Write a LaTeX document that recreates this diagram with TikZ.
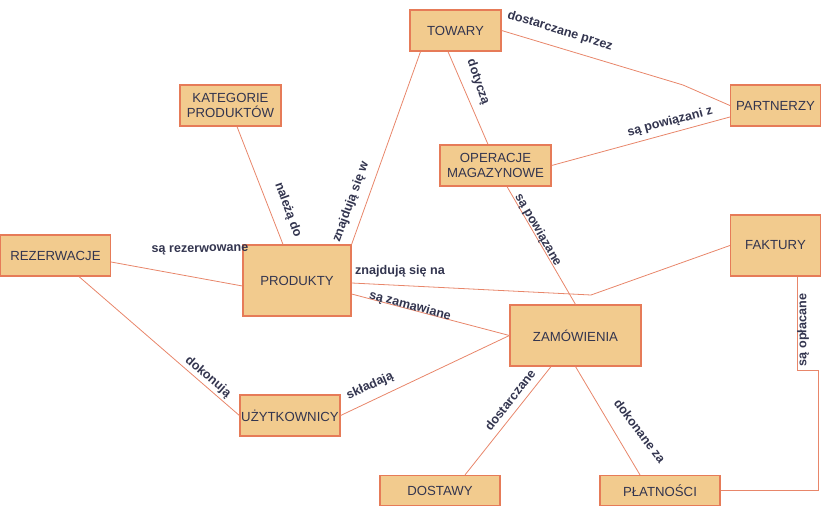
\documentclass[tikz,border=0pt]{standalone}
\usepackage{fontspec}
\setmainfont{Liberation Sans}
\definecolor{boxfill}{HTML}{F2CB8E}
\definecolor{boxdraw}{HTML}{E67B58}
\definecolor{linecol}{HTML}{E8866A}
\definecolor{txt}{HTML}{33354F}
\begin{document}
\begin{tikzpicture}[x=1pt,y=-1pt,
  ent/.style={draw=boxdraw,fill=boxfill,line width=1.2pt,inner sep=0pt,align=center,
    text=txt,font=\fontsize{13.2}{15}\selectfont},
  rel/.style={draw=linecol,line width=0.8pt},
  lab/.style={text=txt,inner sep=0pt,font=\fontsize{12.6}{14}\selectfont\bfseries}]
\useasboundingbox (0,0) rectangle (821,508);
% connectors drawn first so boxes cover their ends
\coordinate (bendA) at (683,85);
\coordinate (bendB) at (591,295);
% nodes
\node[ent,minimum width=91pt,minimum height=41pt] (towary) at (455.5,30.5) {TOWARY};
\node[ent,minimum width=101pt,minimum height=41pt] (kat) at (230.5,105.5) {KATEGORIE\\PRODUKTÓW};
\node[ent,minimum width=90pt,minimum height=41pt] (part) at (775.5,105.5) {PARTNERZY};
\node[ent,minimum width=111pt,minimum height=41pt] (oper) at (495.5,165.5) {OPERACJE\\MAGAZYNOWE};
\node[ent,minimum width=110pt,minimum height=41pt] (rez) at (55.5,255.5) {REZERWACJE};
\node[ent,minimum width=108pt,minimum height=71pt] (prod) at (297,280.5) {PRODUKTY};
\node[ent,minimum width=90pt,minimum height=61pt] (fakt) at (775.5,245.5) {FAKTURY};
\node[ent,minimum width=131pt,minimum height=61pt] (zam) at (575.5,335.5) {ZAMÓWIENIA};
\node[ent,minimum width=100pt,minimum height=41pt] (uzyt) at (290,415.5) {UŻYTKOWNICY};
\node[ent,minimum width=120pt,minimum height=30pt] (dost) at (440,490.5) {DOSTAWY};
\node[ent,minimum width=120pt,minimum height=30pt] (plat) at (660,490.5) {PŁATNOŚCI};
% connectors
\draw[rel] (towary.east) -- (bendA) -- (part.west);
\draw[rel] ([xshift=-7.5pt]towary.south) -- ([xshift=-7.5pt]oper.north);
\draw[rel] ([xshift=-35pt]towary.south) -- (prod.north east);
\draw[rel] ([xshift=6.5pt]kat.south) -- ([xshift=-14pt]prod.north);
\draw[rel] (oper.east) -- ([yshift=-11.5pt]part.west);
\draw[rel] ([xshift=11.5pt]oper.south) -- (zam.north);
\draw[rel] ([yshift=-6.5pt]rez.east) -- ([yshift=-5.5pt]prod.west);
\draw[rel] ([yshift=-2.5pt]prod.east) -- (bendB) -- (fakt.west);
\draw[rel] ([yshift=-13.5pt]prod.east) -- (zam.west);
\draw[rel] ([xshift=23.5pt]rez.south) -- (uzyt.west);
\draw[rel] (uzyt.east) -- (zam.west);
\draw[rel] ([xshift=-24.5pt]zam.south) -- ([xshift=25pt]dost.north);
\draw[rel] (zam.south) -- ([xshift=-20pt]plat.north);
\draw[rel] ([xshift=21.5pt]fakt.south) -- ++(0,94) -- ++(21,0) |- (plat.east);
% labels
\node[lab,rotate=-17] (l1) at (560,31) {dostarczane przez};
\node[lab,rotate=-71] (l2) at (478,82) {dotyczą};
\node[lab,rotate=70] (l3) at (351,202) {znajdują się w};
\node[lab,rotate=-70] (l4) at (288,210) {należą do};
\node[lab,rotate=15] (l5) at (670,122) {są powiązani z};
\node[lab,rotate=-60] (l6) at (538,230) {są powiązane};
\node[lab,rotate=1] (l7) at (200,250) {są rezerwowane};
\node[lab] (l8) at (400,271) {znajdują się na};
\node[lab,rotate=-15] (l9) at (410,306) {są zamawiane};
\node[lab,rotate=-41] (l10) at (208,377) {dokonują};
\node[lab,rotate=24] (l11) at (370,386) {składają};
\node[lab,rotate=52] (l12) at (510,400) {dostarczane};
\node[lab,rotate=-53] (l13) at (640,431) {dokonane za};
\node[lab,rotate=90] (l14) at (803,330) {są opłacane};
\end{tikzpicture}
\end{document}
